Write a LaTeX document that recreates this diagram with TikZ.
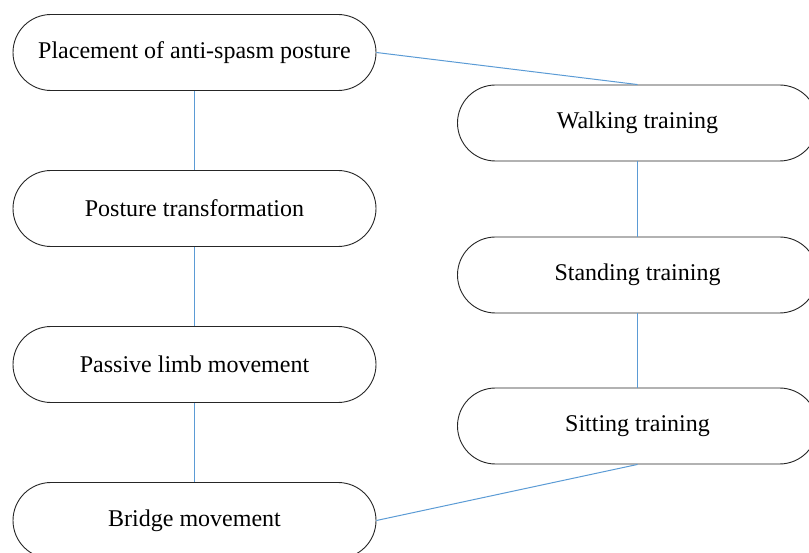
\documentclass[tikz,border=0pt]{standalone}
\usepackage{fontspec}
\setmainfont{Liberation Serif}
\begin{document}
\begin{tikzpicture}[x=1pt,y=-1pt,
  stadium/.style={draw=black!85, line width=0.9pt, rounded corners=38pt, minimum height=76pt, inner sep=0pt, font=\fontsize{24}{28}\selectfont, fill=white},
  lbox/.style={stadium, minimum width=363pt},
  rbox/.style={stadium, minimum width=360pt},
  link/.style={draw={rgb,255:red,91;green,155;blue,213}, line width=1pt}]
\useasboundingbox (0,0) rectangle (809,553);
\node[lbox] (p1) at (194.5,52.5) {Placement of anti-spasm posture};
\node[lbox] (p2) at (194.5,208.5) {Posture transformation};
\node[lbox] (p3) at (194.5,364.5) {Passive limb movement};
\node[lbox] (p4) at (194.5,520.5) {Bridge movement};
\node[rbox] (w) at (637.5,123) {Walking training};
\node[rbox] (s) at (637.5,275) {Standing training};
\node[rbox] (t) at (637.5,426) {Sitting training};
\draw[link] (p1.south) -- (p2.north);
\draw[link] (p2.south) -- (p3.north);
\draw[link] (p3.south) -- (p4.north);
\draw[link] (w.south) -- (s.north);
\draw[link] (s.south) -- (t.north);
\draw[link] (p1.east) -- (w.north);
\draw[link] (t.south) -- (p4.east);
\end{tikzpicture}
\end{document}
